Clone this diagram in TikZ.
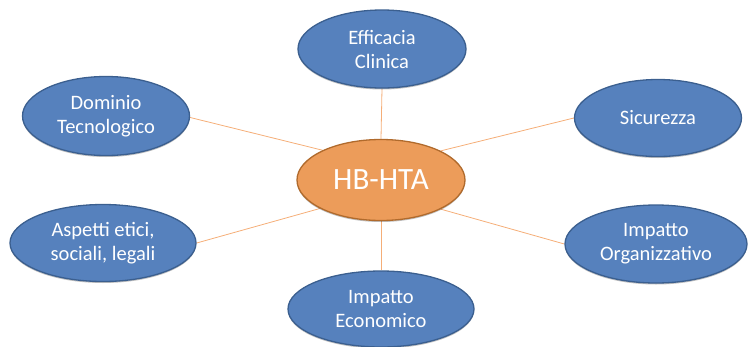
\documentclass[tikz,border=0pt]{standalone}
\usepackage{fontspec}
\setmainfont{Carlito}
\usetikzlibrary{shapes.geometric,shadows,backgrounds}
\definecolor{bluefill}{HTML}{5681BD}
\definecolor{blueborder}{HTML}{3B5F8F}
\definecolor{hubfill}{HTML}{EC9C5A}
\definecolor{hubborder}{HTML}{B06A2C}
\definecolor{linkcol}{HTML}{F5AE78}
\tikzset{
  bubble/.style={ellipse, draw=blueborder, line width=1.3pt, fill=bluefill,
    text=white, inner sep=0pt, align=center,
    font=\fontsize{20.5}{24}\selectfont,
    drop shadow={shadow xshift=0pt, shadow yshift=-1.5pt, opacity=0.25, fill=black}},
  hubbubble/.style={ellipse, draw=hubborder, line width=1.3pt, fill=hubfill,
    text=white, inner sep=0pt, align=center,
    font=\fontsize{31}{36}\selectfont,
    drop shadow={shadow xshift=0pt, shadow yshift=-1.5pt, opacity=0.25, fill=black}},
  link/.style={draw=linkcol, line width=0.8pt}
}
\begin{document}
\begin{tikzpicture}[x=1pt,y=-1pt]
\useasboundingbox (0,0) rectangle (748,346);
\node[hubbubble, minimum width=168pt, minimum height=81pt] (hub) at (381,180) {HB-HTA};
\node[bubble, minimum width=168pt, minimum height=78pt] (eff) at (382,49) {Efficacia\\Clinica};
\node[bubble, minimum width=167pt, minimum height=79pt] (dom) at (106,116) {Dominio\\Tecnologico};
\node[bubble, minimum width=167pt, minimum height=77pt] (sic) at (658,118) {Sicurezza};
\node[bubble, minimum width=186pt, minimum height=77pt] (asp) at (103,243) {Aspetti etici,\\sociali, legali};
\node[bubble, minimum width=182pt, minimum height=78pt] (org) at (656,244) {Impatto\\Organizzativo};
\node[bubble, minimum width=186pt, minimum height=76pt] (eco) at (381,309) {Impatto\\Economico};
\begin{pgfonlayer}{background}
\path[link] (hub.north) -- (eff.south);
\path[link] (hub.153) -- (dom.-1);
\path[link] (hub.26) -- (sic.180);
\path[link] (hub.205) -- (asp.0);
\path[link] (hub.-26) -- (org.180);
\path[link] (hub.south) -- (eco.north);
\end{pgfonlayer}
\end{tikzpicture}
\end{document}
